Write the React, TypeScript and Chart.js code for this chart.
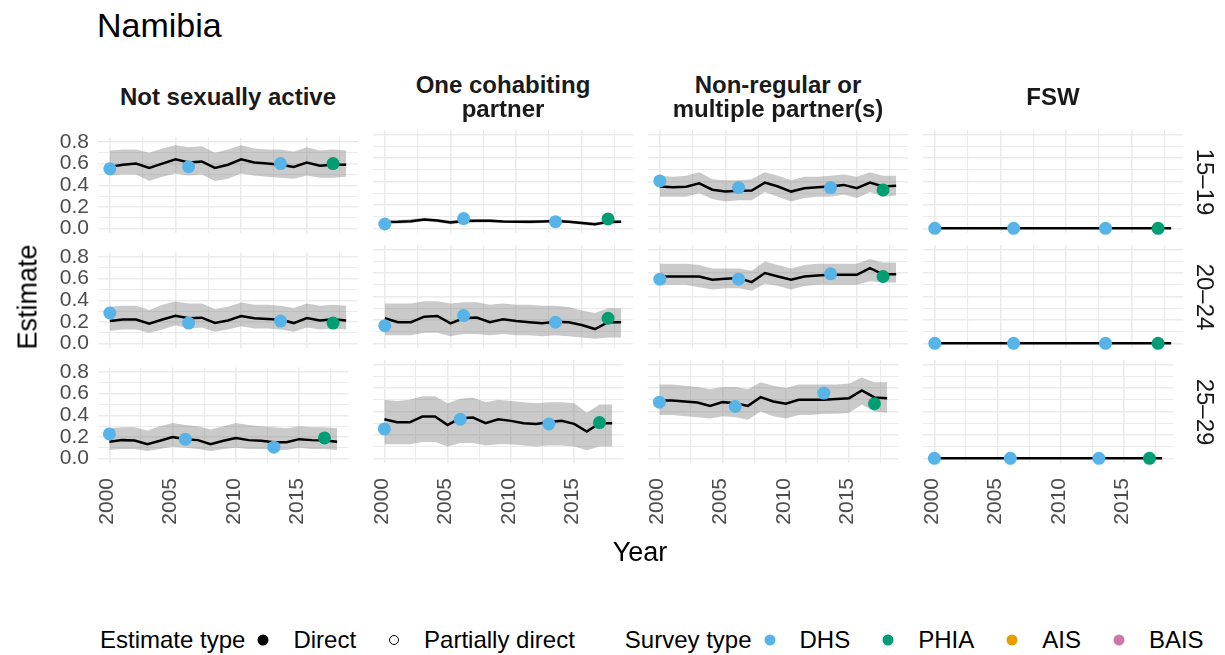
import React, { useEffect, useRef } from "react";
import { Chart, registerables } from "chart.js";

Chart.register(...registerables);

const FONT = '"Liberation Sans", Arial, Helvetica, sans-serif';

// ---------- data ----------
const YEARS = [2000, 2001, 2002, 2003, 2004, 2005, 2006, 2007, 2008, 2009, 2010, 2011, 2012, 2013, 2014, 2015, 2016, 2017, 2018];
const DHS_YEARS = [2000, 2006, 2013];
const PHIA_YEARS = [2017];
const ROW_LABELS = ["15–19", "20–24", "25–29"];
const COL_LABELS = [["Not sexually active"], ["One cohabiting", "partner"], ["Non-regular or", "multiple partner(s)"], ["FSW"]];
const Y_GRID = [0, 0.1, 0.2, 0.3, 0.4, 0.5, 0.6, 0.7, 0.8];
const Y_LABELS = [0, 0.2, 0.4, 0.6, 0.8];
const X_GRID = [2000, 2002.5, 2005, 2007.5, 2010, 2012.5, 2015, 2017.5];
const X_LABELS = [2000, 2005, 2010, 2015];

// Not sexually active
const NSA_15_MID = [0.57, 0.59, 0.6, 0.56, 0.6, 0.64, 0.61, 0.62, 0.56, 0.59, 0.64, 0.61, 0.6, 0.59, 0.57, 0.61, 0.58, 0.59, 0.59];
const NSA_15_LO = [0.49, 0.5, 0.5, 0.44, 0.48, 0.51, 0.49, 0.5, 0.44, 0.46, 0.51, 0.49, 0.48, 0.47, 0.46, 0.49, 0.47, 0.47, 0.48];
const NSA_15_HI = [0.72, 0.73, 0.73, 0.7, 0.74, 0.77, 0.75, 0.76, 0.7, 0.73, 0.77, 0.74, 0.73, 0.73, 0.71, 0.75, 0.72, 0.73, 0.72];
const NSA_15_DHS = [0.553, 0.571, 0.6];
const NSA_15_PHIA = [0.6];

const NSA_20_MID = [0.208, 0.223, 0.223, 0.185, 0.223, 0.257, 0.234, 0.24, 0.191, 0.214, 0.254, 0.234, 0.228, 0.223, 0.19, 0.237, 0.214, 0.225, 0.214];
const NSA_20_LO = [0.12, 0.13, 0.13, 0.1, 0.13, 0.17, 0.14, 0.15, 0.11, 0.13, 0.16, 0.14, 0.14, 0.13, 0.11, 0.15, 0.13, 0.14, 0.13];
const NSA_20_HI = [0.34, 0.35, 0.35, 0.31, 0.36, 0.39, 0.37, 0.37, 0.32, 0.34, 0.38, 0.36, 0.36, 0.35, 0.33, 0.37, 0.35, 0.36, 0.35];
const NSA_20_DHS = [0.283, 0.19, 0.208];
const NSA_20_PHIA = [0.19];

const NSA_25_MID = [0.157, 0.171, 0.168, 0.134, 0.165, 0.2, 0.18, 0.171, 0.134, 0.165, 0.191, 0.171, 0.165, 0.151, 0.151, 0.18, 0.171, 0.168, 0.157];
const NSA_25_LO = [0.08, 0.09, 0.09, 0.07, 0.09, 0.11, 0.1, 0.09, 0.07, 0.09, 0.1, 0.09, 0.09, 0.08, 0.08, 0.1, 0.09, 0.09, 0.08];
const NSA_25_HI = [0.28, 0.29, 0.29, 0.26, 0.3, 0.33, 0.31, 0.3, 0.27, 0.3, 0.33, 0.31, 0.3, 0.29, 0.28, 0.3, 0.29, 0.29, 0.28];
const NSA_25_DHS = [0.228, 0.18, 0.106];
const NSA_25_PHIA = [0.191];

// One cohabiting partner
const OCP_15_MID = [0.055, 0.056, 0.06, 0.075, 0.066, 0.05, 0.063, 0.064, 0.065, 0.058, 0.057, 0.056, 0.058, 0.062, 0.057, 0.045, 0.035, 0.055, 0.057];
const OCP_15_LO = [0.04, 0.04, 0.045, 0.06, 0.05, 0.035, 0.045, 0.05, 0.05, 0.045, 0.045, 0.04, 0.045, 0.045, 0.045, 0.03, 0.02, 0.04, 0.045];
const OCP_15_HI = [0.07, 0.07, 0.08, 0.09, 0.08, 0.07, 0.08, 0.08, 0.08, 0.07, 0.07, 0.07, 0.07, 0.08, 0.07, 0.06, 0.05, 0.07, 0.07];
const OCP_15_DHS = [0.037, 0.083, 0.057];
const OCP_15_PHIA = [0.08];

const OCP_20_MID = [0.214, 0.18, 0.18, 0.228, 0.234, 0.171, 0.214, 0.22, 0.18, 0.205, 0.19, 0.18, 0.171, 0.185, 0.18, 0.157, 0.122, 0.18, 0.18];
const OCP_20_LO = [0.07, 0.07, 0.07, 0.09, 0.09, 0.06, 0.08, 0.08, 0.07, 0.08, 0.07, 0.07, 0.06, 0.07, 0.06, 0.05, 0.04, 0.05, 0.05];
const OCP_20_HI = [0.34, 0.34, 0.34, 0.36, 0.36, 0.34, 0.35, 0.35, 0.33, 0.34, 0.33, 0.33, 0.32, 0.32, 0.31, 0.28, 0.26, 0.3, 0.3];
const OCP_20_DHS = [0.151, 0.237, 0.18];
const OCP_20_PHIA = [0.214];

const OCP_25_MID = [0.334, 0.308, 0.308, 0.357, 0.357, 0.285, 0.343, 0.348, 0.3, 0.334, 0.32, 0.3, 0.294, 0.31, 0.32, 0.294, 0.228, 0.3, 0.3];
const OCP_25_LO = [0.12, 0.12, 0.12, 0.14, 0.14, 0.1, 0.13, 0.13, 0.11, 0.12, 0.12, 0.11, 0.1, 0.11, 0.11, 0.1, 0.07, 0.1, 0.1];
const OCP_25_HI = [0.5, 0.49, 0.5, 0.53, 0.53, 0.47, 0.51, 0.52, 0.48, 0.5, 0.49, 0.48, 0.47, 0.48, 0.48, 0.47, 0.39, 0.46, 0.46];
const OCP_25_DHS = [0.251, 0.334, 0.294];
const OCP_25_PHIA = [0.305];

// Non-regular or multiple partner(s)
const NRM_15_MID = [0.357, 0.35, 0.355, 0.385, 0.33, 0.314, 0.32, 0.322, 0.39, 0.357, 0.314, 0.343, 0.35, 0.357, 0.371, 0.343, 0.39, 0.357, 0.363];
const NRM_15_LO = [0.27, 0.27, 0.27, 0.3, 0.25, 0.23, 0.24, 0.24, 0.31, 0.27, 0.23, 0.26, 0.27, 0.27, 0.29, 0.26, 0.31, 0.27, 0.28];
const NRM_15_HI = [0.45, 0.44, 0.45, 0.48, 0.42, 0.41, 0.41, 0.42, 0.48, 0.45, 0.41, 0.44, 0.44, 0.45, 0.46, 0.44, 0.48, 0.45, 0.45];
const NRM_15_DHS = [0.405, 0.348, 0.348];
const NRM_15_PHIA = [0.328];

const NRM_20_MID = [0.571, 0.571, 0.571, 0.571, 0.543, 0.551, 0.557, 0.523, 0.6, 0.571, 0.543, 0.571, 0.58, 0.585, 0.585, 0.585, 0.643, 0.59, 0.591];
const NRM_20_LO = [0.5, 0.5, 0.5, 0.48, 0.46, 0.47, 0.47, 0.45, 0.51, 0.49, 0.46, 0.49, 0.5, 0.5, 0.5, 0.5, 0.53, 0.52, 0.52];
const NRM_20_HI = [0.68, 0.68, 0.68, 0.67, 0.64, 0.64, 0.64, 0.62, 0.7, 0.67, 0.64, 0.67, 0.68, 0.68, 0.68, 0.68, 0.72, 0.69, 0.69];
const NRM_20_DHS = [0.548, 0.548, 0.594];
const NRM_20_PHIA = [0.571];

const NRM_25_MID = [0.494, 0.494, 0.486, 0.477, 0.448, 0.48, 0.471, 0.448, 0.523, 0.486, 0.466, 0.5, 0.5, 0.5, 0.506, 0.514, 0.58, 0.52, 0.514];
const NRM_25_LO = [0.37, 0.37, 0.36, 0.35, 0.34, 0.36, 0.35, 0.33, 0.4, 0.36, 0.34, 0.37, 0.37, 0.38, 0.38, 0.39, 0.46, 0.4, 0.39];
const NRM_25_HI = [0.63, 0.63, 0.62, 0.61, 0.59, 0.61, 0.61, 0.59, 0.65, 0.62, 0.6, 0.63, 0.63, 0.63, 0.63, 0.64, 0.69, 0.65, 0.65];
const NRM_25_DHS = [0.48, 0.443, 0.557];
const NRM_25_PHIA = [0.466];

// FSW
const FSW_MID = [0, 0, 0, 0, 0, 0, 0, 0, 0, 0, 0, 0, 0, 0, 0, 0, 0, 0, 0];
const FSW_DHS = [0, 0, 0];
const FSW_PHIA = [0];

type Panel = { mid: number[]; lo: number[] | null; hi: number[] | null; dhs: number[]; phia: number[] };

const PANELS: Panel[][] = [
  [
    { mid: NSA_15_MID, lo: NSA_15_LO, hi: NSA_15_HI, dhs: NSA_15_DHS, phia: NSA_15_PHIA },
    { mid: OCP_15_MID, lo: OCP_15_LO, hi: OCP_15_HI, dhs: OCP_15_DHS, phia: OCP_15_PHIA },
    { mid: NRM_15_MID, lo: NRM_15_LO, hi: NRM_15_HI, dhs: NRM_15_DHS, phia: NRM_15_PHIA },
    { mid: FSW_MID, lo: null, hi: null, dhs: FSW_DHS, phia: FSW_PHIA },
  ],
  [
    { mid: NSA_20_MID, lo: NSA_20_LO, hi: NSA_20_HI, dhs: NSA_20_DHS, phia: NSA_20_PHIA },
    { mid: OCP_20_MID, lo: OCP_20_LO, hi: OCP_20_HI, dhs: OCP_20_DHS, phia: OCP_20_PHIA },
    { mid: NRM_20_MID, lo: NRM_20_LO, hi: NRM_20_HI, dhs: NRM_20_DHS, phia: NRM_20_PHIA },
    { mid: FSW_MID, lo: null, hi: null, dhs: FSW_DHS, phia: FSW_PHIA },
  ],
  [
    { mid: NSA_25_MID, lo: NSA_25_LO, hi: NSA_25_HI, dhs: NSA_25_DHS, phia: NSA_25_PHIA },
    { mid: OCP_25_MID, lo: OCP_25_LO, hi: OCP_25_HI, dhs: OCP_25_DHS, phia: OCP_25_PHIA },
    { mid: NRM_25_MID, lo: NRM_25_LO, hi: NRM_25_HI, dhs: NRM_25_DHS, phia: NRM_25_PHIA },
    { mid: FSW_MID, lo: null, hi: null, dhs: FSW_DHS, phia: FSW_PHIA },
  ],
];

// ---------- style / layout ----------
const DHS_COLOR = "#56B4E9";
const PHIA_COLOR = "#009E73";
const AIS_COLOR = "#E69F00";
const BAIS_COLOR = "#CC79A7";
const RIBBON = "rgba(128,128,128,0.42)";
const GRID = "#ebebeb";
const TICK_COLOR = "#4d4d4d";

const PANEL_X0 = 98;
const PANEL_DX = 275;
const PANEL_W = 260;
const PANEL_Y0 = 130;
const PANEL_DY = 115;
const PANEL_H = 103;
const X_MIN = 1999.1;
const X_MAX = 2018.9;
const Y_MIN = -0.04;
const Y_MAX = 0.84;

const PL = 70, PT = 14, PR = 14, PB = 80;
const YW = 55, XH = 70;
const TICK_SIZE = 21;
const STRIP_SIZE = 24;
const AXIS_TITLE_SIZE = 27;
const TITLE_SIZE = 34;
const LEGEND_SIZE = 24;

function PanelChart({ row, col }: { row: number; col: number }) {
  const ref = useRef<HTMLCanvasElement>(null);
  useEffect(() => {
    const p = PANELS[row][col];
    const showY = col === 0;
    const showX = row === 2;
    const datasets: any[] = [
      {
        type: "scatter",
        data: DHS_YEARS.map((x, i) => ({ x, y: p.dhs[i] })),
        backgroundColor: DHS_COLOR,
        pointBackgroundColor: DHS_COLOR,
        pointBorderWidth: 0,
        borderWidth: 0,
        pointRadius: 6.5,
        order: 0,
        clip: false,
      },
      {
        type: "scatter",
        data: PHIA_YEARS.map((x, i) => ({ x, y: p.phia[i] })),
        backgroundColor: PHIA_COLOR,
        pointBackgroundColor: PHIA_COLOR,
        pointBorderWidth: 0,
        borderWidth: 0,
        pointRadius: 6.5,
        order: 1,
        clip: false,
      },
      {
        type: "line",
        data: YEARS.map((x, i) => ({ x, y: p.mid[i] })),
        borderColor: "#000000",
        borderWidth: 2.5,
        pointRadius: 0,
        tension: 0,
        fill: false,
        order: 2,
        clip: false,
      },
    ];
    if (p.lo && p.hi) {
      datasets.push({
        type: "line",
        data: YEARS.map((x, i) => ({ x, y: p.lo![i] })),
        borderWidth: 0,
        borderColor: "rgba(0,0,0,0)",
        pointRadius: 0,
        fill: false,
        order: 4,
      });
      datasets.push({
        type: "line",
        data: YEARS.map((x, i) => ({ x, y: p.hi![i] })),
        borderWidth: 0,
        borderColor: "rgba(0,0,0,0)",
        backgroundColor: RIBBON,
        pointRadius: 0,
        fill: 3,
        order: 3,
      });
    }
    const chart = new Chart(ref.current!, {
      type: "line",
      data: { datasets },
      options: {
        animation: false,
        responsive: false,
        maintainAspectRatio: false,
        events: [],
        layout: {
          padding: {
            left: showY ? PL - YW : PL,
            right: PR,
            top: PT,
            bottom: showX ? PB - XH : PB,
          },
        },
        plugins: { legend: { display: false }, tooltip: { enabled: false } },
        scales: {
          x: {
            type: "linear",
            min: X_MIN,
            max: X_MAX,
            afterBuildTicks: (s: any) => {
              s.ticks = X_GRID.map((v) => ({ value: v }));
            },
            afterFit: (s: any) => {
              s.height = showX ? XH : 0;
            },
            border: { display: false },
            grid: {
              color: GRID,
              drawTicks: false,
              lineWidth: (c: any) => (c.tick && c.tick.value % 5 === 0 ? 1.6 : 1.1),
            },
            ticks: {
              display: showX,
              autoSkip: false,
              minRotation: 90,
              maxRotation: 90,
              padding: 15,
              labelOffset: -2,
              color: TICK_COLOR,
              font: { family: FONT, size: TICK_SIZE },
              callback: (v: any) => (X_LABELS.includes(Number(v)) ? String(v) : ""),
            },
          },
          y: {
            type: "linear",
            min: Y_MIN,
            max: Y_MAX,
            afterBuildTicks: (s: any) => {
              s.ticks = Y_GRID.map((v) => ({ value: v }));
            },
            afterFit: (s: any) => {
              s.width = showY ? YW : 0;
            },
            border: { display: false },
            grid: {
              color: GRID,
              drawTicks: false,
              lineWidth: (c: any) => (c.tick && Math.round(c.tick.value * 10) % 2 === 0 ? 1.6 : 1.1),
            },
            ticks: {
              display: showY,
              autoSkip: false,
              padding: 9,
              color: TICK_COLOR,
              font: { family: FONT, size: TICK_SIZE },
              callback: (v: any) => {
                const n = Number(v);
                return Y_LABELS.some((t) => Math.abs(t - n) < 1e-6) ? n.toFixed(1) : "";
              },
            },
          },
        },
      } as any,
    });
    return () => chart.destroy();
  }, [row, col]);

  const left = PANEL_X0 + col * PANEL_DX - PL;
  const top = PANEL_Y0 + row * PANEL_DY - PT;
  return (
    <canvas
      ref={ref}
      width={PANEL_W + PL + PR}
      height={PANEL_H + PT + PB}
      style={{ position: "absolute", left, top, width: PANEL_W + PL + PR, height: PANEL_H + PT + PB }}
    />
  );
}

function Txt({ x, y, text, size, rot = 0, bold = false, color = "#000", anchor = "center" }: any) {
  const tx = anchor === "left" ? "0" : "-50%";
  return (
    <div
      style={{
        position: "absolute",
        left: x,
        top: y,
        transform: `translate(${tx}, -50%) rotate(${rot}deg)`,
        fontFamily: FONT,
        fontSize: size,
        fontWeight: bold ? "bold" : "normal",
        color,
        whiteSpace: "nowrap",
        lineHeight: 1,
      }}
    >
      {text}
    </div>
  );
}

function Dot({ color, open = false }: { color: string; open?: boolean }) {
  return (
    <span style={{ display: "inline-block", width: 36, height: 24, position: "relative", flex: "none" }}>
      <span
        style={{
          position: "absolute",
          left: "50%",
          top: "50%",
          width: open ? 8 : 11,
          height: open ? 8 : 11,
          borderRadius: "50%",
          transform: "translate(-50%,-50%)",
          background: open ? "transparent" : color,
          border: open ? `1.7px solid ${color}` : "none",
        }}
      />
    </span>
  );
}

export default function App() {
  const cells: any[] = [];
  for (let r = 0; r < 3; r++) for (let c = 0; c < 4; c++) cells.push(<PanelChart key={`${r}-${c}`} row={r} col={c} />);

  const lg = { fontFamily: FONT, fontSize: LEGEND_SIZE, color: "#000", whiteSpace: "nowrap" as const };
  return (
    <div
      style={{
        position: "fixed",
        left: 0,
        top: 0,
        width: 1225,
        height: 655,
        background: "#ffffff",
        overflow: "hidden",
      }}
    >
      {cells}
      <Txt x={97} y={25} text="Namibia" size={TITLE_SIZE} anchor="left" />
      {COL_LABELS.map((lines, c) => {
        const cx = PANEL_X0 + c * PANEL_DX + PANEL_W / 2;
        if (lines.length === 1) return <Txt key={c} x={cx} y={97} text={lines[0]} size={STRIP_SIZE} bold color="#1a1a1a" />;
        return (
          <React.Fragment key={c}>
            <Txt x={cx} y={85} text={lines[0]} size={STRIP_SIZE} bold color="#1a1a1a" />
            <Txt x={cx} y={109} text={lines[1]} size={STRIP_SIZE} bold color="#1a1a1a" />
          </React.Fragment>
        );
      })}
      {ROW_LABELS.map((t, r) => (
        <Txt key={t} x={1205} y={PANEL_Y0 + r * PANEL_DY + PANEL_H / 2} text={t} size={STRIP_SIZE} rot={90} color="#1a1a1a" />
      ))}
      <Txt x={28} y={297} text="Estimate" size={AXIS_TITLE_SIZE} rot={-90} />
      <Txt x={640} y={552} text="Year" size={AXIS_TITLE_SIZE} />
      <div
        style={{
          position: "absolute",
          left: 100,
          top: 628,
          height: 24,
          display: "flex",
          alignItems: "center",
          ...lg,
        }}
      >
        <span>Estimate type</span>
        <Dot color="#000" />
        <span style={{ marginLeft: 12, marginRight: 20 }}>Direct</span>
        <Dot color="#000" open />
        <span style={{ marginLeft: 12 }}>Partially direct</span>
        <span style={{ marginLeft: 50 }}>Survey type</span>
        <Dot color={DHS_COLOR} />
        <span style={{ marginLeft: 12, marginRight: 20 }}>DHS</span>
        <Dot color={PHIA_COLOR} />
        <span style={{ marginLeft: 12, marginRight: 20 }}>PHIA</span>
        <Dot color={AIS_COLOR} />
        <span style={{ marginLeft: 12, marginRight: 20 }}>AIS</span>
        <Dot color={BAIS_COLOR} />
        <span style={{ marginLeft: 12 }}>BAIS</span>
      </div>
    </div>
  );
}
